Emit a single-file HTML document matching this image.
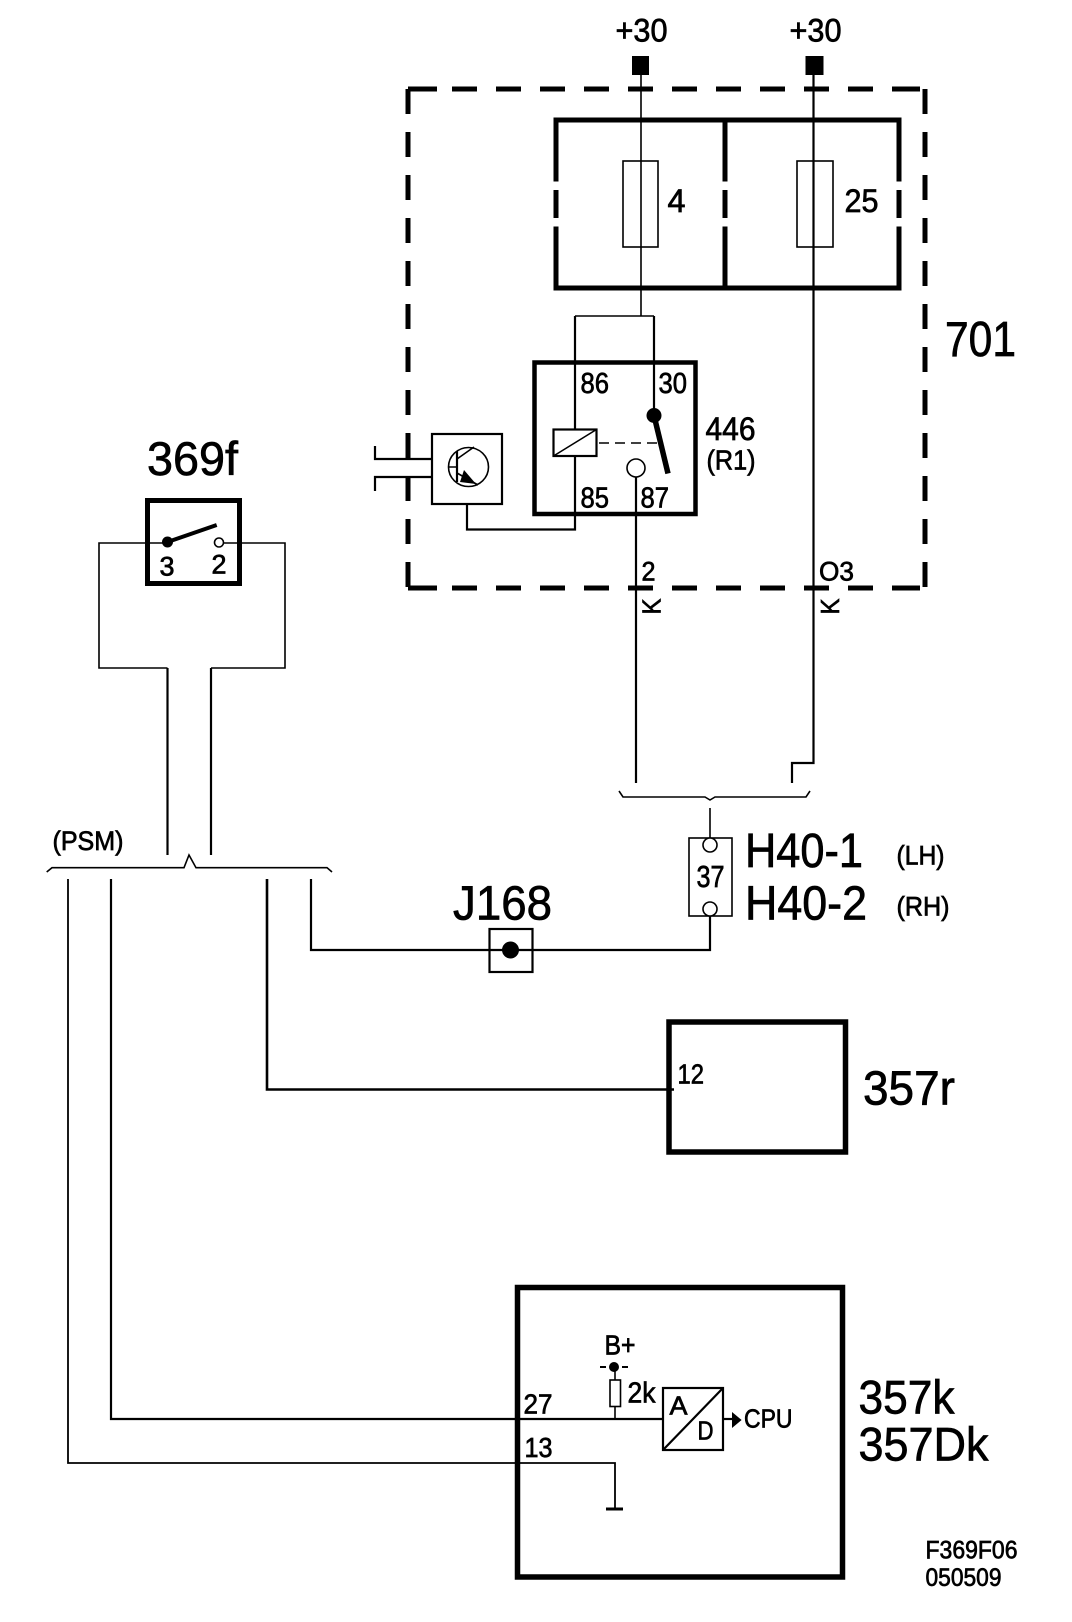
<!DOCTYPE html>
<html><head><meta charset="utf-8"><style>
html,body{margin:0;padding:0;background:#fff}
svg{display:block}
text{font-family:"Liberation Sans",sans-serif;fill:#000;stroke:#000;stroke-width:.7}
.l{fill:none;stroke:#000;stroke-width:1.6}
.m{fill:none;stroke:#000;stroke-width:2.2}
</style></head><body>
<svg xmlns="http://www.w3.org/2000/svg" width="1072" height="1622" viewBox="0 0 1072 1622">
<rect width="1072" height="1622" fill="#fff"/>
<!-- 701 dashed -->
<g fill="none" stroke="#000" stroke-width="5">
<path d="M408 89H925" stroke-dasharray="29 15 25 19 25 19 25 19 25 19 25 19 25 19 25 19 25 19 25 19 25 19 28"/>
<path d="M408 588H925" stroke-dasharray="29 15 25 19 25 19 25 19 25 19 25 19 25 19 25 19 25 19 25 19 25 19 28"/>
<path d="M408 89V588" stroke-dasharray="25 18 25 18 25 18 25 18 25 18 25 18 25 18 25 18 25 18 25 18 25 18 25 18"/>
<path d="M925 89V588" stroke-dasharray="25 18 25 18 25 18 25 18 25 18 25 18 25 18 25 18 25 18 25 18 25 18 25 18"/>
</g>
<rect x="632" y="56" width="17" height="19" fill="#000"/>
<rect x="805.5" y="56" width="18" height="19" fill="#000"/>
<!-- fuse box -->
<g fill="none" stroke="#000" stroke-width="5">
<path d="M556 181.5V120H899V181.5M725 120V181.5M556 190V218M725 190V218M899 190V218M556 226.5V288H899V226.5M725 226.5V288"/>
</g>
<path class="l" d="M641 75V316M575 316H654"/>
<path class="m" d="M813.5 75V288"/>
<path class="m" d="M813.5 288V763H792V783"/>
<rect class="l" x="623" y="161" width="35" height="86"/>
<rect class="l" x="797" y="161" width="36" height="86"/>
<!-- relay -->
<rect x="534.5" y="362.5" width="161" height="151.5" fill="none" stroke="#000" stroke-width="4.5"/>
<path class="m" d="M575 316V429M575 456V529.5H467V503M654 316V415"/>
<rect class="m" x="553.5" y="429.5" width="43" height="26.5"/>
<path class="l" d="M553.5 456L596.5 429.5"/>
<path class="l" d="M599 443H657" stroke-dasharray="10 6"/>
<circle cx="654" cy="415.5" r="7.5"/>
<path d="M654 415.5L668 473.5" stroke="#000" stroke-width="5.5" fill="none"/>
<circle class="l" cx="636" cy="468" r="9"/>
<path class="m" d="M636 477V783"/>
<!-- transistor -->
<rect class="m" x="432" y="434" width="70" height="70"/>
<ellipse class="l" cx="468.5" cy="467" rx="20" ry="19.5"/>
<path class="m" d="M457 451V482"/>
<path class="l" d="M448 467H457M457 459L474 447M457 473L478 485"/>
<path d="M464 470L476 484L460 482Z"/>
<path class="m" d="M375 446V459H432M375 491V477H432"/>
<!-- lower wires -->
<path d="M619 791L623 797H705L710 800L715 797H806L810 791" class="l"/>
<path class="l" d="M710 808V838"/>
<rect class="l" x="689" y="838" width="43" height="78"/>
<circle cx="710" cy="845" r="7" fill="#fff" stroke="#000" stroke-width="1.6"/>
<circle cx="710" cy="909" r="7" fill="#fff" stroke="#000" stroke-width="1.6"/>
<path class="m" d="M710 916V950H311V879"/>
<rect class="m" x="489.5" y="929" width="43" height="43"/>
<circle cx="510.5" cy="950" r="8.5"/>
<path d="M267 879V1089.5H674" fill="none" stroke="#000" stroke-width="2.6"/>
<rect x="669" y="1022" width="176.5" height="130" fill="none" stroke="#000" stroke-width="5.5"/>
<!-- switch -->
<rect x="147.5" y="500.5" width="92" height="83" fill="none" stroke="#000" stroke-width="5"/>
<path class="l" d="M145 543H99V668H167.5"/>
<path class="m" d="M167.5 668V855"/>
<path class="l" d="M224 543H285V668H211"/>
<path class="m" d="M211 668V855"/>
<path class="l" d="M145 543H167"/>
<circle cx="167.5" cy="542" r="5.5"/>
<path d="M167.5 542L216.7 525" stroke="#000" stroke-width="4" fill="none"/>
<circle cx="219" cy="542.5" r="4.5" fill="#fff" stroke="#000" stroke-width="1.6"/>
<!-- PSM brace -->
<path class="l" d="M46.7 872L52 867.7H184L189 855L196 867.7H327L332 872"/>
<path class="l" d="M68 879V1463H615V1509" style="stroke-width:1.8"/>
<path class="m" d="M111 879V1419H663"/>
<!-- 357k -->
<rect x="517.5" y="1287.5" width="325" height="289.5" fill="none" stroke="#000" stroke-width="5.5"/>
<path d="M606 1509H623" stroke="#000" stroke-width="3"/>
<path class="l" d="M615 1367V1419"/>
<path d="M600 1367H606M622 1367H628" stroke="#000" stroke-width="2"/>
<circle cx="614" cy="1367" r="5"/>
<rect x="610" y="1380" width="10.5" height="26.5" fill="#fff" stroke="#000" stroke-width="1.6"/>
<rect class="m" x="663" y="1388" width="60" height="62"/>
<path class="m" d="M663 1450L723 1388"/>
<path class="m" d="M723 1419H733"/>
<path d="M732 1412L741.6 1420L732 1428Z"/>
<!-- text -->
<text x="615.5" y="41.5" font-size="32" textLength="52" lengthAdjust="spacingAndGlyphs">+30</text>
<text x="789.5" y="41.5" font-size="32" textLength="52" lengthAdjust="spacingAndGlyphs">+30</text>
<text x="667.5" y="212" font-size="32" textLength="18" lengthAdjust="spacingAndGlyphs">4</text>
<text x="844.5" y="212" font-size="32" textLength="34" lengthAdjust="spacingAndGlyphs">25</text>
<text x="945" y="356" font-size="49" textLength="71" lengthAdjust="spacingAndGlyphs">701</text>
<text x="580.5" y="393" font-size="29" textLength="28.5" lengthAdjust="spacingAndGlyphs">86</text>
<text x="658.5" y="393" font-size="29" textLength="28.5" lengthAdjust="spacingAndGlyphs">30</text>
<text x="580.5" y="507.5" font-size="29" textLength="28.5" lengthAdjust="spacingAndGlyphs">85</text>
<text x="640.5" y="507.5" font-size="29" textLength="28.5" lengthAdjust="spacingAndGlyphs">87</text>
<text x="705.5" y="440" font-size="32" textLength="50" lengthAdjust="spacingAndGlyphs">446</text>
<text x="706.5" y="469.5" font-size="28" textLength="49" lengthAdjust="spacingAndGlyphs">(R1)</text>
<text x="641.5" y="580.5" font-size="27" textLength="14" lengthAdjust="spacingAndGlyphs">2</text>
<text x="819" y="580.5" font-size="27" textLength="35" lengthAdjust="spacingAndGlyphs">O3</text>
<text transform="translate(660.5 614.5) rotate(-90)" font-size="26" textLength="16" lengthAdjust="spacingAndGlyphs">K</text>
<text transform="translate(839 614.5) rotate(-90)" font-size="26" textLength="16" lengthAdjust="spacingAndGlyphs">K</text>
<text x="147" y="475" font-size="47" textLength="91" lengthAdjust="spacingAndGlyphs">369f</text>
<text x="159.5" y="575.5" font-size="27" textLength="15" lengthAdjust="spacingAndGlyphs">3</text>
<text x="211.5" y="573.5" font-size="27" textLength="15" lengthAdjust="spacingAndGlyphs">2</text>
<text x="52.5" y="850" font-size="27" textLength="71" lengthAdjust="spacingAndGlyphs">(PSM)</text>
<text x="453" y="919.5" font-size="48" textLength="99" lengthAdjust="spacingAndGlyphs">J168</text>
<text x="745" y="867" font-size="48" textLength="118" lengthAdjust="spacingAndGlyphs">H40-1</text>
<text x="745" y="919.5" font-size="48" textLength="122" lengthAdjust="spacingAndGlyphs">H40-2</text>
<text x="896.5" y="864.5" font-size="27" textLength="48" lengthAdjust="spacingAndGlyphs">(LH)</text>
<text x="896.5" y="915.5" font-size="27" textLength="53" lengthAdjust="spacingAndGlyphs">(RH)</text>
<text x="696.5" y="887" font-size="31" textLength="28" lengthAdjust="spacingAndGlyphs">37</text>
<text x="677.5" y="1083.5" font-size="28" textLength="26.5" lengthAdjust="spacingAndGlyphs">12</text>
<text x="863" y="1104.5" font-size="48" textLength="92" lengthAdjust="spacingAndGlyphs">357r</text>
<text x="523.5" y="1413.5" font-size="28" textLength="29" lengthAdjust="spacingAndGlyphs">27</text>
<text x="524.5" y="1457" font-size="28" textLength="28" lengthAdjust="spacingAndGlyphs">13</text>
<text x="604.5" y="1354.5" font-size="28" textLength="31" lengthAdjust="spacingAndGlyphs">B+</text>
<text x="627.5" y="1402.5" font-size="29" textLength="28" lengthAdjust="spacingAndGlyphs">2k</text>
<text x="669.5" y="1414.5" font-size="26" textLength="18" lengthAdjust="spacingAndGlyphs">A</text>
<text x="697.5" y="1439.5" font-size="26" textLength="16" lengthAdjust="spacingAndGlyphs">D</text>
<text x="744" y="1427.5" font-size="26" textLength="48.5" lengthAdjust="spacingAndGlyphs">CPU</text>
<text x="858.5" y="1413.5" font-size="47" textLength="96" lengthAdjust="spacingAndGlyphs">357k</text>
<text x="858.5" y="1460.5" font-size="47" textLength="130" lengthAdjust="spacingAndGlyphs">357Dk</text>
<text x="925.5" y="1558.5" font-size="25" textLength="92" lengthAdjust="spacingAndGlyphs">F369F06</text>
<text x="925.5" y="1586" font-size="25" textLength="76" lengthAdjust="spacingAndGlyphs">050509</text>
</svg>
</body></html>
